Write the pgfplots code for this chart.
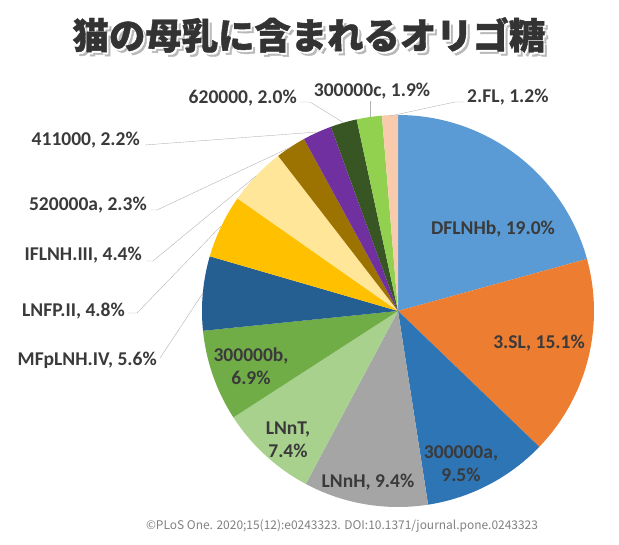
\documentclass[border=0pt]{standalone}
\usepackage{fontspec}
\setmainfont{Carlito}
\newfontfamily\cjk{Noto Sans CJK JP}
\newfontfamily\cjkt{Noto Sans CJK JP}[BoldFeatures={FakeBold=1.2}]
\usepackage{pgfplots}
\pgfplotsset{compat=1.18}
\definecolor{cA}{HTML}{5B9BD5}
\definecolor{cB}{HTML}{ED7D31}
\definecolor{cC}{HTML}{2E75B6}
\definecolor{cD}{HTML}{A5A5A5}
\definecolor{cE}{HTML}{A9D18E}
\definecolor{cF}{HTML}{70AD47}
\definecolor{cG}{HTML}{255E91}
\definecolor{cH}{HTML}{FFC000}
\definecolor{cI}{HTML}{FFE699}
\definecolor{cJ}{HTML}{9C7300}
\definecolor{cK}{HTML}{7030A0}
\definecolor{cL}{HTML}{375623}
\definecolor{cM}{HTML}{92D050}
\definecolor{cN}{HTML}{F8CBAD}
\definecolor{lab}{HTML}{3A3A3A}
\definecolor{lead}{HTML}{B4B4B4}
\definecolor{ttl}{HTML}{333333}
\tikzset{lbl/.style={font=\fontsize{19.6}{23}\selectfont\bfseries, text=lab, align=center, inner sep=0pt},
  ttlf/.style={font=\cjkt\bfseries\fontsize{36.5}{40}\selectfont}}
% slice: colour, cumulative start (%), value (%); total 91.7
\newcommand{\slice}[3]{\addplot[draw=none,fill=#1,domain=90-360*(#2+#3)/91.7:90-360*(#2)/91.7,samples=60] ({398+196*cos(x)},{-311+196*sin(x)}) -- (axis cs:398,-311) -- cycle;}
\begin{document}
\begin{tikzpicture}
\begin{axis}[scale only axis, width=619bp, height=545bp,
  xmin=0, xmax=619, ymin=-545, ymax=0, hide axis, clip=false]
\path (axis cs:0,0) rectangle (axis cs:619,-545);
\slice{cA}{0}{19.0}
\slice{cB}{19.0}{15.1}
\slice{cC}{34.1}{9.5}
\slice{cD}{43.6}{9.4}
\slice{cE}{53.0}{7.4}
\slice{cF}{60.4}{6.9}
\slice{cG}{67.3}{5.6}
\slice{cH}{72.9}{4.8}
\slice{cI}{77.7}{4.4}
\slice{cJ}{82.1}{2.3}
\slice{cK}{84.4}{2.2}
\slice{cL}{86.6}{2.0}
\slice{cM}{88.6}{1.9}
\slice{cN}{90.5}{1.2}
% leader lines
\addplot[lead, thin] coordinates {(160,-358) (203,-293)};
\addplot[lead, thin] coordinates {(128,-313) (137,-313) (221,-226)};
\addplot[lead, thin] coordinates {(146,-261) (153,-261) (256,-176)};
\addplot[lead, thin] coordinates {(151,-210) (157,-210) (291,-147)};
\addplot[lead, thin] coordinates {(145,-145) (317,-132)};
\addplot[lead, thin] coordinates {(300,-102) (310,-102) (344,-123)};
\addplot[lead, thin] coordinates {(370,-101) (370,-117)};
\addplot[lead, thin] coordinates {(464,-102) (455,-102) (390,-116)};
% inside labels
\node[lbl] at (axis cs:493,-229) {DFLNHb, 19.0\%};
\node[lbl] at (axis cs:539,-343) {3.SL, 15.1\%};
\node[lbl] at (axis cs:461,-464) {300000a,\\9.5\%};
\node[lbl] at (axis cs:368,-482) {LNnH, 9.4\%};
\node[lbl] at (axis cs:288,-440) {LNnT,\\7.4\%};
\node[lbl] at (axis cs:251,-366) {300000b,\\6.9\%};
% outside labels
\node[lbl, anchor=east] at (axis cs:157,-360) {MFpLNH.IV, 5.6\%};
\node[lbl, anchor=east] at (axis cs:125,-311) {LNFP.II, 4.8\%};
\node[lbl, anchor=east] at (axis cs:142,-255) {IFLNH.III, 4.4\%};
\node[lbl, anchor=east] at (axis cs:147,-205) {520000a, 2.3\%};
\node[lbl, anchor=east] at (axis cs:140,-140) {411000, 2.2\%};
\node[lbl, anchor=east] at (axis cs:297,-98) {620000, 2.0\%};
\node[lbl] at (axis cs:372,-91) {300000c, 1.9\%};
\node[lbl, anchor=west] at (axis cs:467,-97) {2.FL, 1.2\%};
% title with shadow and outline
\node[ttlf, text=gray!55] at (axis cs:312.5,-39) {猫の母乳に含まれるオリゴ糖};
\node[ttlf, text=white] at (axis cs:310.5,-37) {猫の母乳に含まれるオリゴ糖};
\node[ttlf, text=ttl] at (axis cs:309,-35) {猫の母乳に含まれるオリゴ糖};
% footer
\node[font=\cjk\fontsize{12}{14}\selectfont, text=gray] at (axis cs:342,-526) {©PLoS One. 2020;15(12):e0243323. DOI:10.1371/journal.pone.0243323};
\end{axis}
\end{tikzpicture}
\end{document}
